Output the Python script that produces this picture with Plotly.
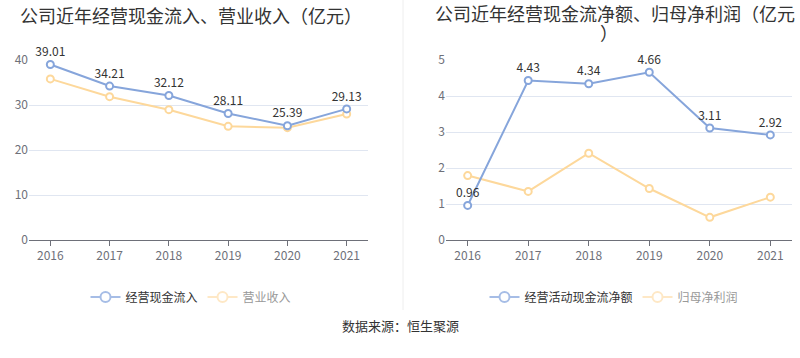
import plotly.graph_objects as go

years = ["2016", "2017", "2018", "2019", "2020", "2021"]
cash_in = [39.01, 34.21, 32.12, 28.11, 25.39, 29.13]
revenue = [35.8, 31.85, 28.96, 25.26, 24.96, 28.0]
net_cash = [0.96, 4.43, 4.34, 4.66, 3.11, 2.92]
net_profit = [1.79, 1.35, 2.41, 1.43, 0.63, 1.19]

BLUE = "#86a5db"
YELLOW = "#fdd89b"
BLUE_L = "#a6bde6"
YELLOW_L = "#fee8c6"
FONT = "Noto Sans CJK SC"

fig = go.Figure()

def line(x, y, color, xa, ya, labels):
    return go.Scatter(
        x=x, y=y, xaxis=xa, yaxis=ya, mode="lines+markers+text" if labels else "lines+markers",
        line=dict(color=color, width=2),
        marker=dict(symbol="circle", size=7, color="white", line=dict(color=color, width=2)),
        text=[f"{v:.2f}" for v in y] if labels else None,
        textposition="top center", textfont=dict(size=12, color="#333", family=FONT),
        cliponaxis=False, showlegend=False, hoverinfo="x+y",
    )

fig.add_trace(line(years, revenue, YELLOW, "x", "y", False))
fig.add_trace(line(years, cash_in, BLUE, "x", "y", True))
fig.add_trace(line(years, net_profit, YELLOW, "x2", "y2", False))
fig.add_trace(line(years, net_cash, BLUE, "x2", "y2", True))

def leg(name, color, legend, textcolor):
    return go.Scatter(
        x=[None], y=[None], xaxis="x" if legend == "legend" else "x2",
        yaxis="y" if legend == "legend" else "y2",
        mode="lines+markers", name=f"<span style='color:{textcolor}'>{name}</span>",
        line=dict(color=color, width=2),
        marker=dict(symbol="circle", size=10, color="white", line=dict(color=color, width=2)),
        legend=legend, showlegend=True,
    )

fig.add_trace(leg("经营现金流入", BLUE_L, "legend", "#333"))
fig.add_trace(leg("营业收入", YELLOW_L, "legend", "#999"))
fig.add_trace(leg("经营活动现金流净额", BLUE_L, "legend2", "#333"))
fig.add_trace(leg("归母净利润", YELLOW_L, "legend2", "#999"))

ydom = [(358 - 240) / 358, (358 - 60) / 358]
xcommon = dict(type="category", showgrid=False, showline=True, linecolor="#6e7079",
               ticks="outside", ticklen=5, tickcolor="#6e7079", automargin=False,
               tickfont=dict(size=12, color="#6e7079", family=FONT), fixedrange=True)
ycommon = dict(showgrid=True, gridcolor="#e0e6f1", zeroline=False, showline=False, automargin=False,
               tickfont=dict(size=12, color="#6e7079", family=FONT), ticks="", fixedrange=True)

def py(px):
    return (358 - px) / 358

fig.update_layout(
    width=800, height=358, margin=dict(l=0, r=0, t=0, b=0, autoexpand=False),
    paper_bgcolor="white", plot_bgcolor="white",
    font=dict(family=FONT, color="#333"),
    xaxis=dict(domain=[29 / 800, 368 / 800], anchor="y", **xcommon),
    yaxis=dict(domain=ydom, anchor="x", range=[0, 40], tickvals=[0, 10, 20, 30, 40], **ycommon),
    xaxis2=dict(domain=[446 / 800, 792 / 800], anchor="y2", **xcommon),
    yaxis2=dict(domain=ydom, anchor="x2", range=[0, 5], tickvals=[0, 1, 2, 3, 4, 5], **ycommon),
    legend=dict(orientation="h", x=191 / 800, xanchor="center", y=py(297),
                yanchor="middle", font=dict(size=12, family=FONT), itemwidth=30,
                bgcolor="rgba(0,0,0,0)"),
    legend2=dict(orientation="h", x=614 / 800, xanchor="center", y=py(297),
                 yanchor="middle", font=dict(size=12, family=FONT), itemwidth=30,
                 bgcolor="rgba(0,0,0,0)"),
    shapes=[dict(type="line", xref="paper", yref="paper", x0=403 / 800, x1=403 / 800,
                 y0=py(310), y1=1, line=dict(color="#eeeeee", width=1))],
    annotations=[
        dict(text="公司近年经营现金流入、营业收入（亿元）", xref="paper", yref="paper",
             x=18 / 800, y=py(15), xanchor="left", yanchor="middle", showarrow=False,
             font=dict(size=18, color="#333", family=FONT)),
        dict(text="公司近年经营现金流净额、归母净利润（亿元", xref="paper", yref="paper",
             x=433 / 800, y=py(13), xanchor="left", yanchor="middle", showarrow=False,
             font=dict(size=18, color="#333", family=FONT)),
        dict(text="）", xref="paper", yref="paper",
             x=609 / 800, y=py(32), xanchor="center", yanchor="middle", showarrow=False,
             font=dict(size=18, color="#333", family=FONT)),
        dict(text="数据来源：恒生聚源", xref="paper", yref="paper",
             x=0.5, y=py(325), xanchor="center", yanchor="middle", showarrow=False,
             font=dict(size=13, color="#333", family=FONT)),
    ],
)

fig.write_html("out.html", config={"displayModeBar": False},
               post_script="document.body.style.margin='0';document.body.style.padding='0';")
